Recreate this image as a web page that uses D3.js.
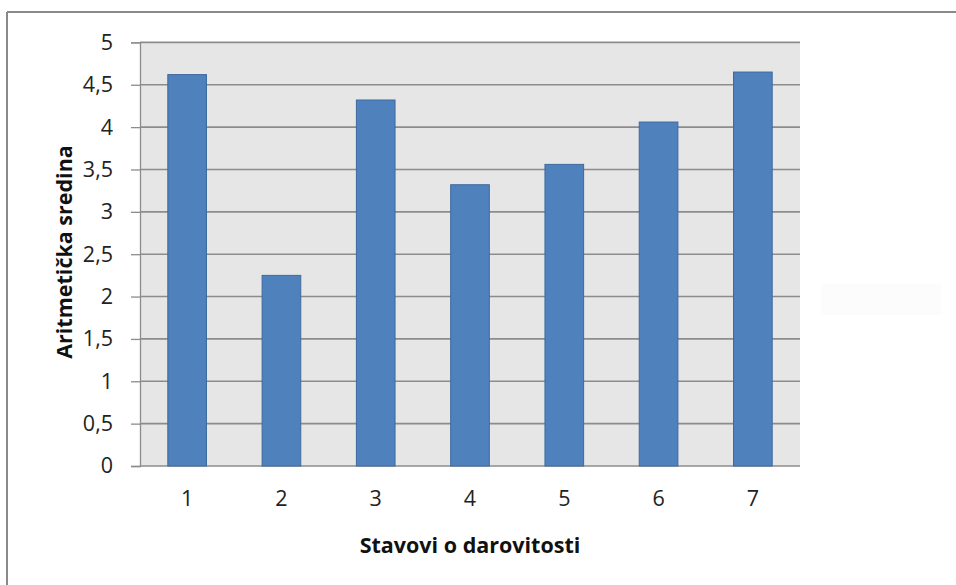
<!DOCTYPE html>
<html><head><meta charset="utf-8">
<script src="https://cdn.jsdelivr.net/npm/d3@7"></script>
<style>body{margin:0;background:#fff}svg{display:block}</style>
</head><body>
<script>
const categories = ["1","2","3","4","5","6","7"];
const values = [4.62, 2.25, 4.32, 3.32, 3.56, 4.06, 4.65];
const yTicks = [0,0.5,1,1.5,2,2.5,3,3.5,4,4.5,5];
const yTickLabels = ["0","0,5","1","1,5","2","2,5","3","3,5","4","4,5","5"];
const xTitle = "Stavovi o darovitosti";
const yTitle = "Aritmetička sredina";

const W=956,H=585;
const font = "'Open Sans', sans-serif";
const svg=d3.select("body").append("svg").attr("width",W).attr("height",H);
svg.append("rect").attr("width",W).attr("height",H).attr("fill","#fff");
// outer frame (only top and left visible)
svg.append("line").attr("x1",7).attr("x2",W).attr("y1",12).attr("y2",12).attr("stroke","#8a8a8a").attr("stroke-width",2);
svg.append("line").attr("x1",7).attr("x2",7).attr("y1",12).attr("y2",H).attr("stroke","#8a8a8a").attr("stroke-width",2);

const L=140,R=800,T=42.4,B=466;
const x=d3.scaleBand().domain(categories).range([L,R]).paddingInner(0.59).paddingOuter(0.295);
const y=d3.scaleLinear().domain([0,5]).range([B,T]);

svg.append("rect").attr("x",L).attr("y",T).attr("width",R-L).attr("height",B-T).attr("fill","#e6e6e6");

const yAxis=d3.axisLeft(y).tickValues(yTicks).tickFormat((d,i)=>yTickLabels[i]).tickSize(9).tickPadding(18);
const gy=svg.append("g").attr("transform",`translate(${L},0)`).call(yAxis);
gy.select(".domain").attr("stroke","#8c8c8c").attr("stroke-width",1.3);
gy.selectAll(".tick line").attr("stroke","#8c8c8c").attr("stroke-width",1.3);
gy.selectAll(".tick text").attr("font-family",font).attr("font-size",21.5).attr("fill","#222");

// gridlines
svg.append("g").selectAll("line").data(yTicks).join("line")
  .attr("x1",L).attr("x2",R).attr("y1",d=>y(d)).attr("y2",d=>y(d))
  .attr("stroke","#8c8c8c").attr("stroke-width",1.6);

svg.append("g").selectAll("rect").data(values).join("rect")
  .attr("x",(d,i)=>x(categories[i])).attr("width",x.bandwidth())
  .attr("y",d=>y(d)).attr("height",d=>B-y(d))
  .attr("fill","#4f81bd").attr("stroke","#3d6a9e").attr("stroke-width",1);

const xAxis=d3.axisBottom(x).tickSize(0).tickPadding(25);
const gx=svg.append("g").attr("transform",`translate(0,${B})`).call(xAxis);
gx.select(".domain").remove();
gx.selectAll(".tick text").attr("font-family",font).attr("font-size",21.5).attr("fill","#222");

svg.append("text").attr("x",470).attr("y",553).attr("text-anchor","middle")
  .attr("font-family",font).attr("font-weight","bold").attr("font-size",21.5).attr("fill","#111").text(xTitle);
svg.append("text").attr("transform","translate(72,252) rotate(-90)").attr("text-anchor","middle")
  .attr("font-family",font).attr("font-weight","bold").attr("font-size",21.5).attr("fill","#111").text(yTitle);

// faint placeholder box on the right
svg.append("rect").attr("x",821).attr("y",284).attr("width",120).attr("height",31).attr("fill","#fcfcfc");
</script>
</body></html>
